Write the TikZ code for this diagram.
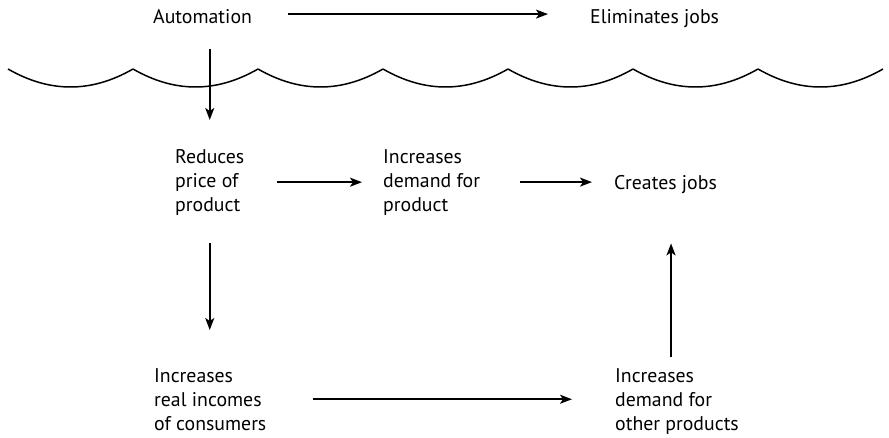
\documentclass[tikz,border=0pt]{standalone}
\usepackage{fontspec}
\setmainfont{PT Sans}
\usetikzlibrary{arrows.meta}

\begin{document}
\begin{tikzpicture}[
        x=1pt, y=-1pt,
        label/.style={inner sep=0pt, align=left,
                      font=\fontsize{19.8}{24}\selectfont},
        arr/.style={-{Stealth[length=12pt,width=9pt,inset=3pt]}, line width=1.7pt},
        wave/.style={line width=1.5pt}
    ]
        \useasboundingbox (0,0) rectangle (889,438);

        \node[label, anchor=base west] (auto)    at (153,24)  {Automation};
        \node[label, anchor=base west] (elim)    at (590,24)  {Eliminates jobs};
        \node[label, anchor=north west] (reduce) at (175,149) {Reduces\\price of\\product};
        \node[label, anchor=north west] (incdem) at (383,149) {Increases\\demand for\\product};
        \node[label, anchor=base west] (creates) at (614,190) {Creates jobs};
        \node[label, anchor=north west] (realinc) at (154,368) {Increases\\real incomes\\of consumers};
        \node[label, anchor=north west] (othdem) at (615,368) {Increases\\demand for\\other products};

        % the wavy line
        \foreach \i in {0,...,6}
            \draw[wave] (8+125*\i,69) .. controls +(41.7,24) and +(-41.7,24) .. (133+125*\i,69);

        \draw[arr, shorten <=36pt, shorten >=42pt] ([yshift=3pt]auto.east) -- ([yshift=3pt]auto.east -| elim.west);
        \draw[arr, shorten <=25pt, shorten >=29pt] (reduce.north |- auto.south) -- (reduce.north);
        \draw[arr, shorten <=33pt, shorten >=21pt] (reduce.east) -- (reduce.east -| incdem.west);
        \draw[arr, shorten <=40pt, shorten >=22pt] (incdem.east) -- (incdem.east -| creates.west);
        \draw[arr, shorten <=28pt, shorten >=38pt] (reduce.south) -- (reduce.south |- realinc.north);
        \draw[arr, shorten <=46pt, shorten >=43pt] (realinc.east) -- (realinc.east -| othdem.west);
        \draw[arr, shorten <=11pt, shorten >=49pt] ([xshift=5.5pt]creates.south |- othdem.north) -- ([xshift=5.5pt]creates.south);
    \end{tikzpicture}
\end{document}
